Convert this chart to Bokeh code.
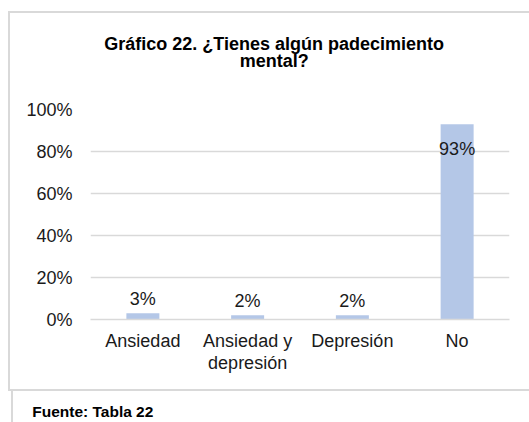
from bokeh.plotting import figure
from bokeh.models import (ColumnDataSource, LabelSet, Title, InlineStyleSheet,
                          FixedTicker, FactorRange, Range1d)
from bokeh.core.properties import value
from bokeh.embed import file_html
from bokeh.resources import INLINE

# ---- data ----
categories = ["Ansiedad", "Ansiedad y depresión", "Depresión", "No"]
category_labels = ["Ansiedad", "Ansiedad y\ndepresión", "Depresión", "No"]
values = [3, 2, 2, 93]
y_ticks = [0, 20, 40, 60, 80, 100]
y_tick_labels = ["0%", "20%", "40%", "60%", "80%", "100%"]
title_lines = ["Gráfico 22. ¿Tienes algún padecimiento", "mental?"]
source_note = "Fuente: Tabla 22"

FONT = "Liberation Sans"
TEXT = "#1a1a1a"
GRID = "#d9d9d9"
BAR = "#b4c7e7"
W, H = 529, 422

src = ColumnDataSource(dict(
    cat=category_labels,
    val=values,
    label=[f"{v}%" for v in values],
    off=[8.4 if v < 50 else -31.0 for v in values],
))

css = InlineStyleSheet(css="""
:host { position: relative; }
:host::before {
  content: ""; position: absolute; box-sizing: border-box; border: none;
  left: 8px; top: 11px; width: 521px; height: 380px;
  background:
    linear-gradient(#d9d9d9, #d9d9d9) left top / 100% 2px no-repeat,
    linear-gradient(#d9d9d9, #d9d9d9) left bottom / 100% 2px no-repeat,
    linear-gradient(#d9d9d9, #d9d9d9) left top / 2px 100% no-repeat;
  pointer-events: none; z-index: 5;
}
:host::after {
  content: ""; position: absolute; box-sizing: border-box; border: none;
  left: 11px; top: 391px; width: 2px; height: 31px;
  background: #d9d9d9;
  pointer-events: none; z-index: 5;
}
""")

p = figure(x_range=FactorRange(*category_labels), y_range=Range1d(0, 100),
           width=W, height=H, output_backend="svg", toolbar_location=None,
           min_border_left=90, min_border_right=20, min_border_top=109,
           min_border_bottom=103, background_fill_color="white",
           border_fill_color="white", stylesheets=[css])
p.outline_line_color = None

p.vbar(x="cat", top="val", width=0.315, source=src, fill_color=BAR, line_color=None)

p.add_layout(LabelSet(x="cat", y="val", text="label", y_offset="off", source=src,
                      text_align="center", text_baseline="alphabetic",
                      text_font=value(FONT), text_font_size=value("18px"),
                      text_color=TEXT))

# axes
p.xaxis.axis_line_color = GRID
p.xaxis.axis_line_width = 1.5
p.xaxis.major_tick_line_color = None
p.xaxis.minor_tick_line_color = None
p.xaxis.major_label_standoff = 5
p.xaxis.major_label_text_font = FONT
p.xaxis.major_label_text_font_size = "18px"
p.xaxis.major_label_text_color = TEXT
p.xaxis.major_label_text_line_height = 1.1

p.yaxis.axis_line_color = None
p.yaxis.major_tick_line_color = None
p.yaxis.minor_tick_line_color = None
p.yaxis.ticker = FixedTicker(ticks=y_ticks)
p.yaxis.major_label_overrides = dict(zip(y_ticks, y_tick_labels))
p.yaxis.major_label_standoff = 12
p.yaxis.major_label_text_font = FONT
p.yaxis.major_label_text_font_size = "18px"
p.yaxis.major_label_text_color = TEXT

p.xgrid.grid_line_color = None
p.ygrid.ticker = FixedTicker(ticks=y_ticks)
p.ygrid.grid_line_color = GRID
p.ygrid.grid_line_width = 1.5

# ---- title: spacer, line 2, line 1 (stacked outward from the frame) ----
p.add_layout(Title(text=" ", text_font_size="1px", standoff=35.5), "above")
p.add_layout(Title(text=title_lines[1], align="left", offset=149.2, standoff=0,
                   vertical_align="bottom", text_font=FONT, text_font_size="18px",
                   text_font_style="bold", text_color="black"), "above")
p.add_layout(Title(text=title_lines[0], align="left", offset=13.7, standoff=-10,
                   vertical_align="bottom", text_font=FONT, text_font_size="18px",
                   text_font_style="bold", text_color="black"), "above")

# ---- source note below the axis ----
p.add_layout(Title(text=" ", text_font_size="1px", standoff=21.6), "below")
p.add_layout(Title(text=source_note, align="left", offset=-58.3, standoff=0,
                   vertical_align="bottom", text_font=FONT, text_font_size="15.5px",
                   text_font_style="bold", text_color="black"), "below")

with open("out.html", "w", encoding="utf-8") as f:
    f.write(file_html(p, INLINE))
